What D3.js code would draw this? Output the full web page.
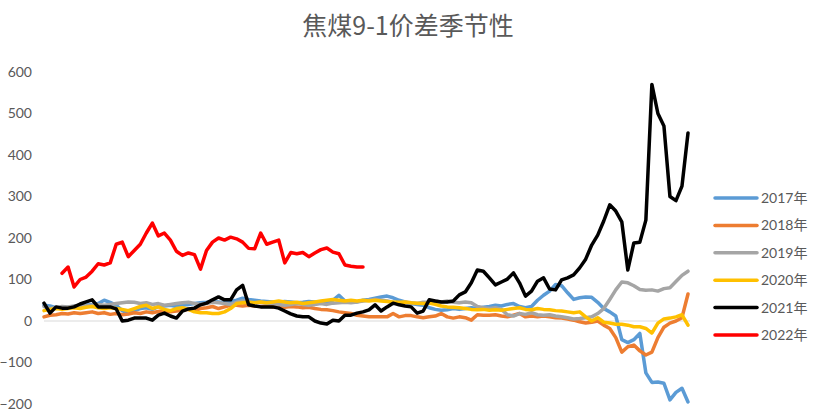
<!DOCTYPE html>
<html><head><meta charset="utf-8">
<script src="https://cdn.jsdelivr.net/npm/d3@7"></script>
<style>body{margin:0;background:#fff;} svg{display:block;}</style>
</head><body><svg id="c" width="827" height="413"></svg>
<script>
const title = "焦煤9-1价差季节性";
const seriesNames = ["2017年","2018年","2019年","2020年","2021年","2022年"];
const yTicks = [-200,-100,0,100,200,300,400,500,600];

const v2017 = [38,36,32,30,33,35,36,38,40,42,50,45,38,25,18,25,30,32,28,35,36,38,35,38,40,42,44,45,47,46,44,47,50,55,52,50,48,47,46,45,47,46,44,45,47,46,45,46,50,62,48,47,46,50,52,55,58,60,56,50,46,42,40,38,32,28,26,27,30,28,30,32,30,33,35,38,36,40,42,35,32,35,50,62,72,88,85,68,52,56,58,57,45,30,22,12,-45,-52,-45,-30,-125,-148,-147,-150,-190,-172,-162,-195];
const v2018 = [10,14,15,18,17,20,18,20,22,18,20,16,18,15,17,20,18,22,20,23,25,22,24,26,28,25,30,32,35,30,34,38,38,36,38,36,35,36,34,35,33,35,34,32,33,30,28,27,25,22,20,18,14,12,10,10,10,10,18,10,13,13,10,8,10,12,18,10,7,10,8,2,15,14,14,15,12,10,14,18,10,12,10,12,10,8,7,5,2,-2,-5,-3,0,-10,-18,-40,-75,-62,-58,-72,-82,-75,-40,-15,-5,0,8,65];
const v2019 = [35,30,32,35,34,36,38,36,38,40,38,40,42,44,46,45,42,44,40,42,38,40,42,44,45,42,40,42,45,44,42,40,45,48,46,44,45,43,42,40,38,40,42,40,38,40,42,40,43,44,45,44,46,48,50,52,50,48,45,42,45,44,42,45,46,48,46,48,45,44,46,44,35,32,30,32,28,15,12,18,16,20,15,14,15,12,10,8,5,6,8,10,18,30,52,75,94,92,85,76,74,75,72,78,80,95,110,120];
const v2020 = [25,28,30,28,30,32,30,33,35,32,30,32,30,28,25,30,35,38,30,34,28,25,30,32,28,22,20,20,18,18,22,30,42,44,45,44,46,44,46,48,46,44,45,42,44,46,48,50,52,50,48,50,48,50,48,50,48,47,46,45,46,44,43,42,43,40,36,34,33,32,30,28,27,28,26,27,26,28,30,32,28,27,30,28,27,25,24,22,20,22,10,0,8,-3,-5,-8,-8,-10,-14,-14,-18,-29,-5,5,7,10,15,-10];
const v2021 = [43,19,34,31,31,34,41,46,51,34,34,34,29,0,2,7,7,7,2,14,19,12,7,24,29,31,39,43,51,58,51,51,75,86,39,36,34,34,34,31,24,17,12,10,10,0,-5,-7,2,0,14,14,19,22,27,39,24,34,43,39,36,34,19,24,51,48,46,46,48,63,70,92,123,120,104,87,94,101,116,92,60,72,96,104,77,75,99,104,111,128,149,183,207,241,280,265,239,123,188,190,243,570,500,470,300,290,325,453];
const v2022 = [null,null,null,115,130,82,100,106,120,138,135,140,185,190,155,170,185,212,236,205,212,195,168,158,164,160,125,170,190,200,195,202,198,190,175,174,212,185,190,195,140,165,162,165,155,164,172,176,166,162,135,132,130,130];

const allSeries = [v2017,v2018,v2019,v2020,v2021,v2022];
const colors = ["#5B9BD5","#ED7D31","#A5A5A5","#FFC000","#000000","#FF0000"];

const svg = d3.select("#c");
const nPts = v2017.length;
const x = d3.scaleLinear().domain([0, nPts-1]).range([44, 688]);
const y = d3.scaleLinear().domain([-200, 600]).range([404, 72]);
const fontNum = "Lato, 'Noto Sans CJK SC', sans-serif";

svg.append("text").attr("x", 408).attr("y", 35).attr("text-anchor","middle")
  .attr("font-family","'Noto Sans CJK SC', sans-serif").attr("font-size", 25)
  .attr("fill","#595959").text(title);

const yAxis = d3.axisLeft(y).tickValues(yTicks).tickSize(0).tickPadding(0).tickFormat(d3.format("d"));
const gy = svg.append("g").attr("transform","translate(32,0)").call(yAxis);
gy.select(".domain").remove();
gy.selectAll("text").attr("font-family", fontNum).attr("font-size", 14).attr("fill","#595959");

svg.append("line").attr("x1", 44).attr("x2", 690).attr("y1", y(0)).attr("y2", y(0))
  .attr("stroke","#D9D9D9").attr("stroke-width",1);

const line = d3.line().defined(d => d != null).x((d,i) => x(i)).y(d => y(d)).curve(d3.curveLinear);
allSeries.forEach((s, k) => {
  svg.append("path").datum(s).attr("d", line).attr("fill","none")
    .attr("stroke", colors[k]).attr("stroke-width", 3.5).attr("stroke-linejoin","round").attr("stroke-linecap","round");
});

const lg = svg.append("g");
seriesNames.forEach((name, k) => {
  const yy = 198 + k * 27.4;
  lg.append("line").attr("x1", 715).attr("x2", 757).attr("y1", yy).attr("y2", yy)
    .attr("stroke", colors[k]).attr("stroke-width", 3.5).attr("stroke-linecap","round");
  lg.append("text").attr("x", 761).attr("y", yy).attr("dy","0.36em")
    .attr("font-family", fontNum).attr("font-size", 14).attr("fill","#595959").text(name);
});
</script></body></html>
